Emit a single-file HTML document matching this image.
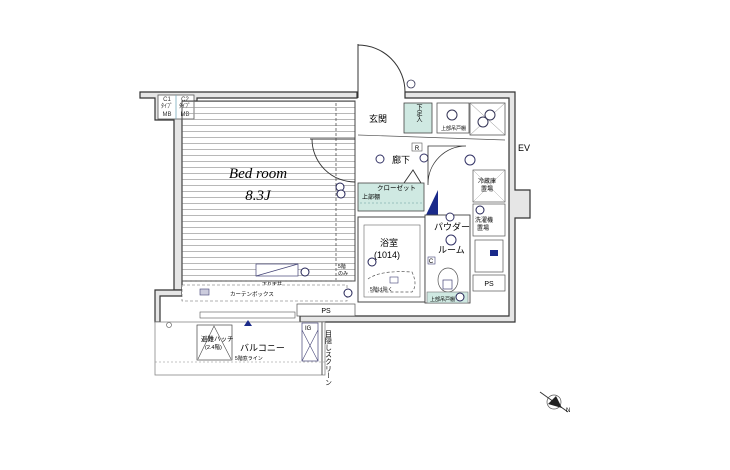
<!DOCTYPE html>
<html><head><meta charset="utf-8"><style>
body{margin:0;background:#fff;}
svg{display:block;font-family:"Liberation Sans","Noto Sans CJK JP",sans-serif;}
</style></head><body>
<svg width="730" height="470" viewBox="0 0 730 470" xmlns="http://www.w3.org/2000/svg">
<defs>
<pattern id="hl" width="10" height="6" patternUnits="userSpaceOnUse"><line x1="0" y1="5.5" x2="10" y2="5.5" stroke="#999" stroke-width="0.7"/></pattern>
</defs>
<!-- walls -->
<g fill="#e6e6e6" stroke="#333" stroke-width="1.2">
<path d="M140 92 H357 V98 H197 V101 H182 V290 H174 V120 H155 V98 H140 Z"/>
<path d="M405 92 H515 V190 H530 V218 H515 V322 H300 V316 H509 V98 H405 Z"/>
<path d="M155 290 H182 V296 H160 V322 H155 Z"/>
</g>
<!-- MB -->
<rect x="158" y="95" width="36" height="24" fill="#fff" stroke="#555" stroke-width="0.8"/>
<line x1="176" y1="95" x2="176" y2="119" stroke="#7ab" stroke-width="0.8"/>
<g font-size="6" fill="#333" text-anchor="middle"><text x="167" y="101">C1</text><text x="167" y="108">ﾀｲﾌﾟ</text><text x="167" y="116">MB</text><text x="185" y="101">C2</text><text x="185" y="108">ﾀｲﾌﾟ</text><text x="185" y="116">MB</text></g>
<!-- bedroom -->
<rect x="182" y="101" width="173" height="180" fill="url(#hl)" stroke="#444" stroke-width="1"/>
<line x1="336" y1="103" x2="336" y2="280" stroke="#555" stroke-dasharray="3,2" stroke-width="0.8"/>
<line x1="182" y1="281" x2="355" y2="281" stroke="#555" stroke-dasharray="3,2" stroke-width="0.8"/>
<text x="258" y="178" font-family="Liberation Serif,serif" font-style="italic" font-size="15" text-anchor="middle">Bed room</text>
<text x="258" y="200" font-family="Liberation Serif,serif" font-style="italic" font-size="15" text-anchor="middle">8.3J</text>
<rect x="256" y="264" width="42" height="12" fill="#fff" stroke="#447" stroke-width="0.7"/><line x1="256" y1="276" x2="298" y2="264" stroke="#447" stroke-width="0.7"/>
<circle cx="305" cy="272" r="4" fill="#fff" stroke="#225"/>
<text x="262" y="286" font-size="5">下り天井</text>
<text x="338" y="268" font-size="5">5階</text><text x="338" y="275" font-size="5">のみ</text>
<!-- bedroom door -->
<path d="M310 139 H355 M312 139 A43 43 0 0 0 355 182" fill="none" stroke="#333" stroke-width="0.9"/>
<circle cx="340" cy="187" r="4" fill="#fff" stroke="#225"/><circle cx="341" cy="194" r="4" fill="#fff" stroke="#225"/>
<!-- curtain / PS -->
<rect x="182" y="285" width="165" height="16" fill="#fff" stroke="#666" stroke-width="0.6" stroke-dasharray="3,2"/>
<text x="230" y="296" font-size="5.5">カーテンボックス</text>
<rect x="200" y="289" width="9" height="6" fill="#ccd" stroke="#447" stroke-width="0.6"/>
<circle cx="348" cy="293" r="4" fill="#fff" stroke="#225"/>
<rect x="297" y="304" width="58" height="12" fill="#fff" stroke="#555" stroke-width="0.7"/>
<text x="326" y="313" font-size="7" text-anchor="middle">PS</text>
<rect x="200" y="312" width="95" height="6" fill="#fff" stroke="#555" stroke-width="0.6"/>
<!-- entry -->
<path d="M358 44 V98 M358 45 A47 47 0 0 1 405 92" fill="none" stroke="#333" stroke-width="1"/>
<circle cx="411" cy="84" r="4" fill="#fff" stroke="#335" stroke-width="0.8"/>
<text x="369" y="122" font-size="9">玄関</text>
<rect x="404" y="103" width="28" height="30" fill="#cfe9e2" stroke="#444" stroke-width="0.8"/>
<text x="418" y="113" font-size="6" text-anchor="middle" writing-mode="tb">下足入</text>
<line x1="358" y1="135" x2="505" y2="140" stroke="#555" stroke-width="0.7"/>
<rect x="437" y="103" width="32" height="30" fill="#fff" stroke="#555" stroke-width="0.8"/>
<rect x="470" y="103" width="35" height="32" fill="#fff" stroke="#555" stroke-width="0.8"/>
<path d="M470 103 L505 135 M505 103 L470 135" stroke="#888" stroke-width="0.5"/>
<circle cx="483" cy="122" r="5" fill="#fff" stroke="#335"/><circle cx="490" cy="115" r="5" fill="#fff" stroke="#335"/>
<circle cx="452" cy="115" r="5" fill="#fff" stroke="#335"/>
<text x="441" y="130" font-size="5">上部吊戸棚</text>
<!-- hallway -->
<rect x="412" y="143" width="10" height="8" fill="#fff" stroke="#555" stroke-width="0.6"/><text x="417" y="150" font-size="6" text-anchor="middle">R</text>
<circle cx="380" cy="159" r="4" fill="#fff" stroke="#336"/><text x="392" y="163" font-size="9">廊下</text>
<circle cx="424" cy="158" r="4" fill="#fff" stroke="#336"/>
<path d="M404 183 L413 170 L421 183" fill="none" stroke="#333" stroke-width="0.9"/>
<path d="M428 185 V146 H466 M466 146 A38 38 0 0 0 428 184" fill="none" stroke="#333" stroke-width="0.8"/>
<circle cx="470" cy="160" r="5" fill="#fff" stroke="#336"/>
<!-- closet -->
<rect x="358" y="183" width="66" height="28" fill="#cfe9e2" stroke="#444" stroke-width="0.8"/>
<text x="377" y="190" font-size="6.5">クローゼット</text>
<text x="362" y="199" font-size="6">上部棚</text>
<line x1="360" y1="203" x2="422" y2="203" stroke="#699" stroke-dasharray="2,2" stroke-width="0.6"/>
<polygon points="426,215 438,190 438,215" fill="#1a2a8a"/>
<!-- bath -->
<rect x="358" y="217" width="67" height="85" fill="#fff" stroke="#444" stroke-width="1"/>
<rect x="364" y="225" width="56" height="72" fill="none" stroke="#666" stroke-width="0.6"/>
<text x="380" y="246" font-size="9">浴室</text><text x="374" y="258" font-size="9">(1014)</text>
<path d="M368 279 Q380 270 412 272 Q418 285 412 292 L368 292" fill="none" stroke="#555" stroke-width="0.7" stroke-dasharray="3,2"/>
<rect x="390" y="277" width="8" height="6" fill="#fff" stroke="#447" stroke-width="0.6"/>
<circle cx="372" cy="262" r="4" fill="#fff" stroke="#225"/>
<text x="370" y="291" font-size="5">5階は除く</text>
<!-- powder -->
<rect x="425" y="215" width="45" height="88" fill="#fff" stroke="#444" stroke-width="0.9"/>
<circle cx="450" cy="217" r="4" fill="#fff" stroke="#336"/>
<text x="434" y="230" font-size="9">パウダー</text>
<circle cx="451" cy="240" r="5" fill="#fff" stroke="#336"/>
<text x="438" y="253" font-size="9">ルーム</text>
<rect x="428" y="257" width="7" height="7" fill="#fff" stroke="#447" stroke-width="0.6"/><text x="431" y="263" font-size="6" text-anchor="middle">C</text>
<ellipse cx="448" cy="280" rx="10" ry="12" fill="#fff" stroke="#555" stroke-width="0.7"/>
<rect x="443" y="280" width="9" height="9" fill="#fff" stroke="#447" stroke-width="0.7"/>
<rect x="427" y="292" width="41" height="11" fill="#cfe9e2" stroke="#777" stroke-width="0.6"/>
<text x="430" y="301" font-size="5">上部吊戸棚</text>
<circle cx="460" cy="297" r="4" fill="#fff" stroke="#225"/>
<!-- right column -->
<rect x="473" y="170" width="32" height="32" fill="#fff" stroke="#555" stroke-width="0.7"/>
<path d="M473 170 L505 202 M505 170 L473 202" stroke="#999" stroke-width="0.4"/>
<text x="478" y="183" font-size="6">冷蔵庫</text><text x="481" y="191" font-size="6">置場</text>
<rect x="473" y="204" width="32" height="32" fill="#fff" stroke="#555" stroke-width="0.7"/>
<text x="475" y="222" font-size="6">洗濯機</text><text x="477" y="230" font-size="6">置場</text>
<circle cx="480" cy="210" r="4" fill="#fff" stroke="#225"/>
<rect x="475" y="240" width="28" height="32" fill="#fff" stroke="#555" stroke-width="0.7"/>
<rect x="490" y="250" width="8" height="6" fill="#1a2a8a"/>
<rect x="473" y="275" width="32" height="16" fill="#fff" stroke="#555" stroke-width="0.7"/>
<text x="489" y="286" font-size="7" text-anchor="middle">PS</text>
<text x="518" y="151" font-size="9">EV</text>
<!-- balcony -->
<rect x="155" y="322" width="170" height="53" fill="#fff" stroke="#888" stroke-width="0.8"/>
<line x1="155" y1="362" x2="325" y2="362" stroke="#888" stroke-dasharray="2,2" stroke-width="0.6"/>
<rect x="197" y="325" width="35" height="35" fill="#fff" stroke="#444" stroke-width="0.7"/>
<path d="M198 359 L214 326 L231 359" fill="none" stroke="#444" stroke-width="0.6"/>
<text x="201" y="341" font-size="6.5">避難ハッチ</text><text x="205" y="349" font-size="5.5">(2.4階)</text>
<text x="240" y="351" font-size="9">バルコニー</text>
<text x="235" y="360" font-size="5">5階窓ライン</text>
<polygon points="244,326 248,320 252,326" fill="#1a2a8a"/>
<rect x="302" y="323" width="16" height="38" fill="#fff" stroke="#447" stroke-width="0.7"/>
<path d="M302 330 L318 361 M318 330 L302 361" stroke="#447" stroke-width="0.6"/>
<text x="305" y="330" font-size="6">IG</text>
<line x1="322" y1="322" x2="322" y2="375" stroke="#555"/>
<text x="328" y="330" font-size="7" writing-mode="tb">目隠しスクリーン</text>
<circle cx="169" cy="325" r="2.5" fill="#fff" stroke="#555" stroke-width="0.6"/>
<!-- compass -->
<circle cx="554" cy="402" r="7" fill="none" stroke="#555" stroke-width="0.7"/>
<path d="M540 392 L568 412" stroke="#333" stroke-width="1"/>
<polygon points="548,404 556,396 562,408" fill="#222"/>
<text x="566" y="412" font-size="6">N</text>
</svg>
</body></html>
